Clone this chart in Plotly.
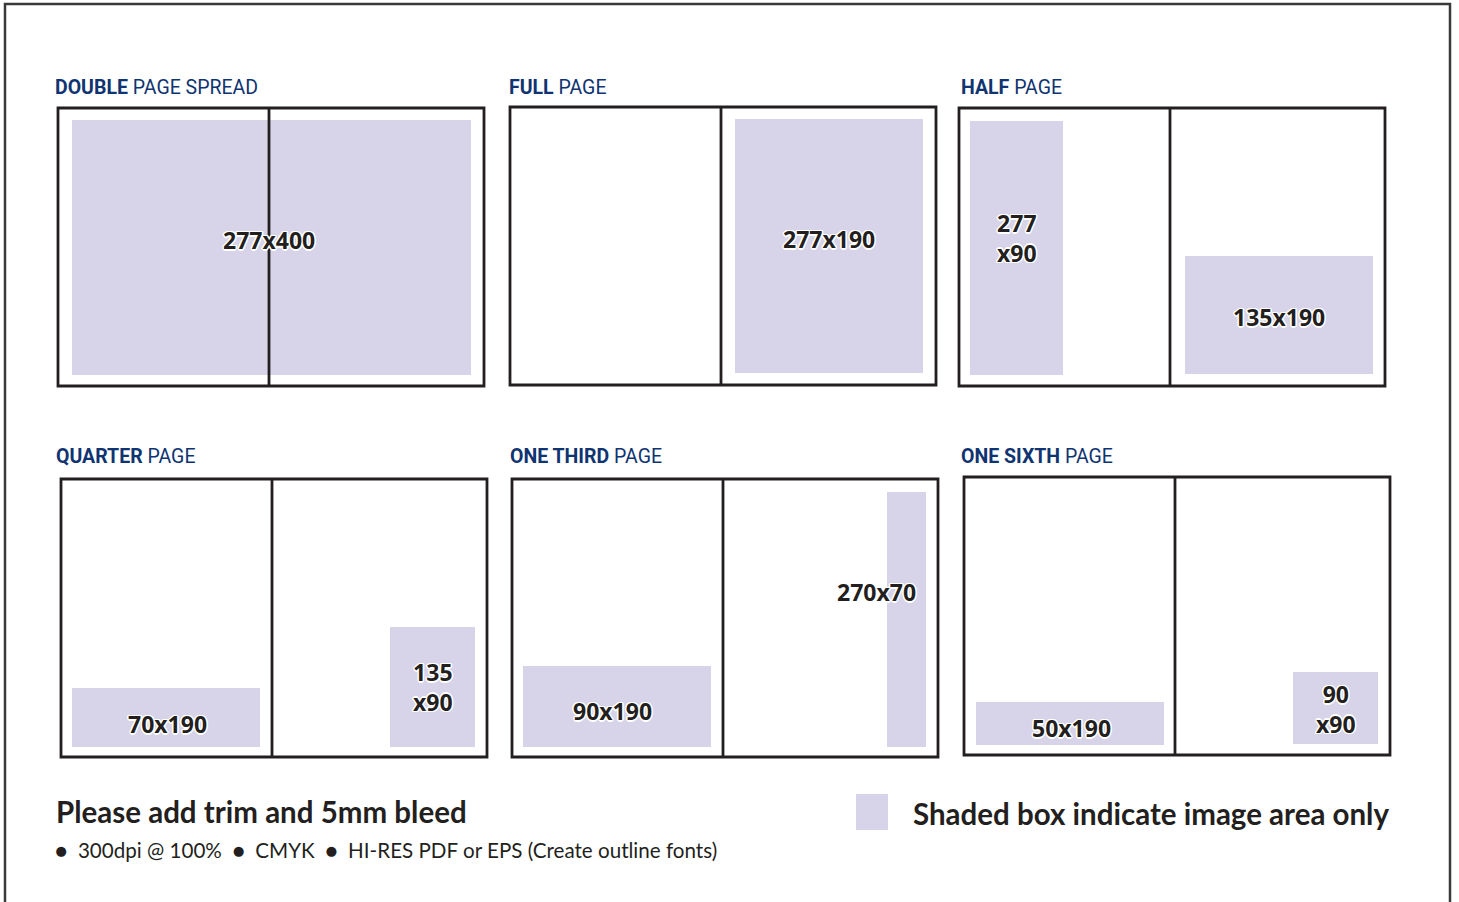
import plotly.graph_objects as go

# ---------------- data ----------------
panel_titles_bold = ["DOUBLE", "FULL", "HALF", "QUARTER", "ONE THIRD", "ONE SIXTH"]
panel_titles_rest = ["PAGE SPREAD", "PAGE", "PAGE", "PAGE", "PAGE", "PAGE"]

# image-area labels (mm) per panel
area_labels = [
    ["277x400"],
    ["277x190"],
    ["277<br>x90", "135x190"],
    ["70x190", "135<br>x90"],
    ["90x190", "270x70"],
    ["50x190", "90<br>x90"],
]

# ---------------- layout geometry (page units) ----------------
W, H = 1459, 902
panel_origin = [(58, 108), (510, 107), (959, 108), (61, 479), (512, 479), (964, 477)]
title_pos = [(55, 87), (509, 87), (961, 87), (56, 456), (510, 456), (961, 456)]
panel_w, panel_h, divider = 426, 278, 211

# shaded rectangles relative to panel origin: (x0, y0, x1, y1)
shaded = [
    [(14, 12, 413, 267)],
    [(225, 12, 413, 266)],
    [(11, 13, 104, 267), (226, 148, 414, 266)],
    [(11, 209, 199, 268), (329, 148, 414, 268)],
    [(11, 187, 199, 268), (375, 13, 414, 268)],
    [(12, 225, 200, 268), (329, 195, 414, 267)],
]
# label centres relative to panel origin
label_pos = [
    [(211, 132)],
    [(319, 132)],
    [(58, 130), (320, 209)],
    [(106, 245), (372, 208)],
    [(100, 232), (364, 113)],
    [(107, 251), (372, 232)],
]

SHADE = "#d7d4ea"
LINE = "#231f20"
NAVY = "#0f3471"
TXT = "#231f20"
HALO = ("1px 1px 0 #fff, -1px -1px 0 #fff, 1px -1px 0 #fff, -1px 1px 0 #fff, "
        "0 1.5px 0 #fff, 0 -1.5px 0 #fff, 1.5px 0 0 #fff, -1.5px 0 0 #fff")

fig = go.Figure()
# invisible trace to set up the axes
fig.add_trace(go.Scatter(x=[0, W], y=[0, H], mode="markers",
                         marker=dict(opacity=0), hoverinfo="skip", showlegend=False))

shapes = []
annotations = []

# outer frame
shapes.append(dict(type="rect", xref="x", yref="y", x0=5, y0=4, x1=1450, y1=920,
                   line=dict(color="#3a3a3a", width=2.5), fillcolor="rgba(0,0,0,0)"))

for i, (ox, oy) in enumerate(panel_origin):
    for (x0, y0, x1, y1) in shaded[i]:
        shapes.append(dict(type="rect", xref="x", yref="y",
                           x0=ox + x0, y0=oy + y0, x1=ox + x1, y1=oy + y1,
                           line=dict(width=0), fillcolor=SHADE, layer="below"))
    shapes.append(dict(type="rect", xref="x", yref="y",
                       x0=ox, y0=oy, x1=ox + panel_w, y1=oy + panel_h,
                       line=dict(color=LINE, width=2.8), fillcolor="rgba(0,0,0,0)"))
    shapes.append(dict(type="line", xref="x", yref="y",
                       x0=ox + divider, y0=oy, x1=ox + divider, y1=oy + panel_h,
                       line=dict(color=LINE, width=2.8)))
    tx, ty = title_pos[i]
    annotations.append(dict(x=tx, y=ty, xref="x", yref="y", xanchor="left", yanchor="middle",
                            showarrow=False, xshift=-2,
                            text=f"<b>{panel_titles_bold[i]}</b> {panel_titles_rest[i]}",
                            font=dict(family="Roboto", size=19.5, color=NAVY)))
    for lab, (lx, ly) in zip(area_labels[i], label_pos[i]):
        annotations.append(dict(x=ox + lx, y=oy + ly, xref="x", yref="y",
                                xanchor="center", yanchor="middle", showarrow=False,
                                text=f"<b>{lab}</b>",
                                font=dict(family="Open Sans", size=23, color=TXT, shadow=HALO)))

# legend swatch
shapes.append(dict(type="rect", xref="x", yref="y", x0=856, y0=794, x1=888, y1=830,
                   line=dict(width=0), fillcolor=SHADE))
annotations.append(dict(x=913, y=813, xref="x", yref="y", xanchor="left", yanchor="middle",
                        showarrow=False, xshift=-2, text="<b>Shaded box indicate image area only</b>",
                        font=dict(family="Lato", size=29.5, color=TXT)))
annotations.append(dict(x=56, y=811, xref="x", yref="y", xanchor="left", yanchor="middle",
                        showarrow=False, xshift=-2, text="<b>Please add trim and 5mm bleed</b>",
                        font=dict(family="Lato", size=29.5, color=TXT)))
annotations.append(dict(x=55, y=850, xref="x", yref="y", xanchor="left", yanchor="middle",
                        showarrow=False, xshift=-2,
                        text="●  300dpi @ 100%  ●  CMYK  ●  HI-RES PDF or EPS (Create outline fonts)",
                        font=dict(family="Lato", size=20.6, color=TXT)))

fig.update_layout(
    width=W, height=H,
    margin=dict(l=0, r=0, t=0, b=0),
    paper_bgcolor="white", plot_bgcolor="white",
    xaxis=dict(range=[0, W], visible=False, fixedrange=True),
    yaxis=dict(range=[H, 0], visible=False, fixedrange=True),
    shapes=shapes, annotations=annotations, showlegend=False,
)

fig.write_html("out.html", config={"displayModeBar": False},
               post_script="document.body.style.margin='0';document.body.style.overflow='hidden';")
